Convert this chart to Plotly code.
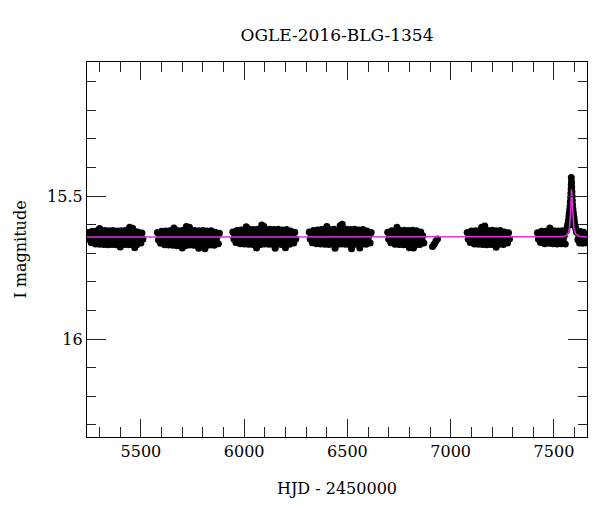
import plotly.graph_objects as go

s1_hjd = [5245, 5250, 5255, 5260, 5265, 5270, 5275, 5280, 5285, 5290,
          5295, 5300, 5305, 5310, 5315, 5320, 5325, 5330, 5335, 5340,
          5345, 5350, 5355, 5360, 5365, 5370, 5375, 5380, 5385, 5390,
          5395, 5400, 5405, 5410, 5415, 5420, 5425, 5430, 5435, 5440,
          5445, 5450, 5455, 5460, 5465, 5470, 5475, 5480, 5485, 5490,
          5495, 5500, 5505, 5510]
s1_mag = [15.627, 15.651, 15.639, 15.663, 15.623, 15.653, 15.638, 15.667,
          15.622, 15.652, 15.637, 15.668, 15.621, 15.654, 15.638, 15.669,
          15.620, 15.652, 15.637, 15.670, 15.621, 15.654, 15.636, 15.669,
          15.620, 15.653, 15.638, 15.670, 15.622, 15.652, 15.637, 15.668,
          15.621, 15.654, 15.638, 15.669, 15.620, 15.652, 15.637, 15.670,
          15.621, 15.654, 15.636, 15.669, 15.620, 15.653, 15.638, 15.670,
          15.625, 15.652, 15.638, 15.664, 15.629, 15.650]

s2_hjd = [5580, 5585, 5590, 5595, 5600, 5605, 5610, 5615, 5620, 5625,
          5630, 5635, 5640, 5645, 5650, 5655, 5660, 5665, 5670, 5675,
          5680, 5685, 5690, 5695, 5700, 5705, 5710, 5715, 5720, 5725,
          5730, 5735, 5740, 5745, 5750, 5755, 5760, 5765, 5770, 5775,
          5780, 5785, 5790, 5795, 5800, 5805, 5810, 5815, 5820, 5825,
          5830, 5835, 5840, 5845, 5850, 5855, 5860, 5865, 5870, 5875,
          5880]
s2_mag = [15.627, 15.653, 15.640, 15.665, 15.623, 15.655, 15.639, 15.670,
          15.622, 15.654, 15.638, 15.671, 15.621, 15.656, 15.639, 15.672,
          15.620, 15.654, 15.638, 15.673, 15.621, 15.656, 15.637, 15.672,
          15.620, 15.655, 15.639, 15.673, 15.622, 15.654, 15.638, 15.671,
          15.621, 15.656, 15.639, 15.672, 15.620, 15.654, 15.638, 15.673,
          15.621, 15.656, 15.637, 15.672, 15.620, 15.655, 15.639, 15.673,
          15.622, 15.654, 15.638, 15.671, 15.621, 15.656, 15.639, 15.672,
          15.626, 15.653, 15.640, 15.666, 15.630]

s3_hjd = [5945, 5950, 5955, 5960, 5965, 5970, 5975, 5980, 5985, 5990,
          5995, 6000, 6005, 6010, 6015, 6020, 6025, 6030, 6035, 6040,
          6045, 6050, 6055, 6060, 6065, 6070, 6075, 6080, 6085, 6090,
          6095, 6100, 6105, 6110, 6115, 6120, 6125, 6130, 6135, 6140,
          6145, 6150, 6155, 6160, 6165, 6170, 6175, 6180, 6185, 6190,
          6195, 6200, 6205, 6210, 6215, 6220, 6225, 6230, 6235, 6240,
          6245, 6250]
s3_mag = [15.625, 15.650, 15.637, 15.662, 15.620, 15.651, 15.635, 15.666,
          15.618, 15.650, 15.634, 15.667, 15.617, 15.652, 15.635, 15.668,
          15.616, 15.650, 15.634, 15.669, 15.617, 15.652, 15.633, 15.668,
          15.616, 15.651, 15.635, 15.669, 15.618, 15.650, 15.634, 15.667,
          15.617, 15.652, 15.635, 15.668, 15.616, 15.650, 15.634, 15.669,
          15.617, 15.652, 15.633, 15.668, 15.616, 15.651, 15.635, 15.669,
          15.618, 15.650, 15.634, 15.667, 15.617, 15.652, 15.635, 15.668,
          15.622, 15.650, 15.636, 15.664, 15.626, 15.650]

s4_hjd = [6315, 6320, 6325, 6330, 6335, 6340, 6345, 6350, 6355, 6360,
          6365, 6370, 6375, 6380, 6385, 6390, 6395, 6400, 6405, 6410,
          6415, 6420, 6425, 6430, 6435, 6440, 6445, 6450, 6455, 6460,
          6465, 6470, 6475, 6480, 6485, 6490, 6495, 6500, 6505, 6510,
          6515, 6520, 6525, 6530, 6535, 6540, 6545, 6550, 6555, 6560,
          6565, 6570, 6575, 6580, 6585, 6590, 6595, 6600, 6605, 6610,
          6615]
s4_mag = [15.625, 15.650, 15.637, 15.663, 15.620, 15.651, 15.635, 15.666,
          15.618, 15.650, 15.634, 15.667, 15.617, 15.652, 15.635, 15.668,
          15.616, 15.650, 15.634, 15.669, 15.617, 15.652, 15.633, 15.668,
          15.616, 15.651, 15.635, 15.669, 15.618, 15.650, 15.634, 15.667,
          15.617, 15.652, 15.635, 15.668, 15.616, 15.650, 15.634, 15.669,
          15.617, 15.652, 15.633, 15.668, 15.616, 15.651, 15.635, 15.669,
          15.618, 15.650, 15.634, 15.667, 15.617, 15.652, 15.635, 15.668,
          15.622, 15.650, 15.636, 15.664, 15.627]

s5_hjd = [6695, 6700, 6705, 6710, 6715, 6720, 6725, 6730, 6735, 6740,
          6745, 6750, 6755, 6760, 6765, 6770, 6775, 6780, 6785, 6790,
          6795, 6800, 6805, 6810, 6815, 6820, 6825, 6830, 6835, 6840,
          6845, 6850, 6855, 6860, 6865, 6870,
          6912, 6920, 6928, 6936]
s5_mag = [15.626, 15.651, 15.638, 15.663, 15.621, 15.653, 15.638, 15.668,
          15.621, 15.652, 15.637, 15.669, 15.620, 15.654, 15.638, 15.670,
          15.619, 15.652, 15.637, 15.671, 15.620, 15.654, 15.636, 15.670,
          15.619, 15.653, 15.638, 15.671, 15.621, 15.652, 15.637, 15.669,
          15.625, 15.652, 15.638, 15.664,
          15.676, 15.668, 15.658, 15.650]

s6_hjd = [7080, 7085, 7090, 7095, 7100, 7105, 7110, 7115, 7120, 7125,
          7130, 7135, 7140, 7145, 7150, 7155, 7160, 7165, 7170, 7175,
          7180, 7185, 7190, 7195, 7200, 7205, 7210, 7215, 7220, 7225,
          7230, 7235, 7240, 7245, 7250, 7255, 7260, 7265, 7270, 7275,
          7280, 7285]
s6_mag = [15.627, 15.651, 15.639, 15.662, 15.622, 15.653, 15.638, 15.667,
          15.621, 15.652, 15.637, 15.668, 15.620, 15.654, 15.638, 15.669,
          15.619, 15.652, 15.637, 15.670, 15.620, 15.654, 15.636, 15.669,
          15.619, 15.653, 15.638, 15.670, 15.621, 15.652, 15.637, 15.668,
          15.620, 15.654, 15.638, 15.669, 15.625, 15.652, 15.638, 15.664,
          15.628, 15.650]

s7_hjd = [7420, 7425, 7430, 7435, 7440, 7445, 7450, 7455, 7460, 7465,
          7470, 7475, 7480, 7485, 7490, 7495, 7500, 7505, 7510, 7515,
          7520, 7525, 7530, 7535, 7540, 7545, 7550, 7555, 7560,
          7562, 7565, 7568, 7570, 7572, 7574, 7576, 7578, 7579, 7581,
          7582, 7583, 7584, 7584, 7585, 7586, 7587, 7588, 7589, 7590,
          7592, 7594, 7596, 7598, 7600, 7603, 7606, 7609,
          7580, 7590, 7585, 7577, 7595, 7583, 7587,
          7612, 7616, 7620, 7624, 7628, 7632, 7636, 7640, 7644, 7648,
          7652, 7655]
s7_mag = [15.628, 15.651, 15.639, 15.662, 15.623, 15.652, 15.638, 15.666,
          15.623, 15.651, 15.637, 15.665, 15.622, 15.653, 15.638, 15.666,
          15.621, 15.651, 15.637, 15.667, 15.622, 15.653, 15.636, 15.666,
          15.621, 15.652, 15.638, 15.667, 15.622,
          15.615, 15.605, 15.595, 15.585, 15.572, 15.560, 15.548, 15.535, 15.520, 15.505,
          15.490, 15.475, 15.460, 15.435, 15.450, 15.468, 15.485, 15.500, 15.515, 15.530,
          15.545, 15.558, 15.570, 15.582, 15.594, 15.605, 15.615, 15.625,
          15.560, 15.575, 15.590, 15.600, 15.600, 15.520, 15.540,
          15.625, 15.652, 15.638, 15.664, 15.624, 15.653, 15.637, 15.665, 15.626, 15.651,
          15.638, 15.663]

# scattered points standing out of the bands
out_hjd = [5300, 5445, 5460, 5400, 5470,
           5720, 5735, 5660, 5780, 5810, 5700,
           6085, 6095, 6010, 6150, 6060, 6200,
           6475, 6465, 6400, 6440, 6520, 6560,
           6740, 6800, 6820,
           7165, 7150, 7220,
           7480]
out_mag = [15.613, 15.609, 15.612, 15.678, 15.680,
           15.606, 15.609, 15.611, 15.682, 15.684, 15.681,
           15.601, 15.605, 15.607, 15.682, 15.681, 15.680,
           15.598, 15.603, 15.606, 15.682, 15.684, 15.681,
           15.609, 15.680, 15.681,
           15.604, 15.609, 15.679,
           15.611]

# ---- model curve ----
model_hjd = [5239, 7540, 7560, 7570, 7575, 7578, 7581, 7583, 7584, 7585,
             7587, 7590, 7593, 7597, 7605, 7620, 7660]
model_mag = [15.643, 15.642, 15.638, 15.628, 15.612, 15.592, 15.552, 15.510, 15.482, 15.476,
             15.492, 15.540, 15.582, 15.612, 15.632, 15.640, 15.643]

title_text = "OGLE-2016-BLG-1354"
x_title = "HJD - 2450000"
y_title = "I magnitude"

obs_hjd = s1_hjd + s2_hjd + s3_hjd + s4_hjd + s5_hjd + s6_hjd + s7_hjd + out_hjd
obs_mag = s1_mag + s2_mag + s3_mag + s4_mag + s5_mag + s6_mag + s7_mag + out_mag

FONT = "DejaVu Serif"

fig = go.Figure()
fig.add_trace(go.Scatter(x=obs_hjd, y=obs_mag, mode="markers",
                         marker=dict(color="black", size=7, line=dict(width=0)),
                         showlegend=False, hoverinfo="skip"))
fig.add_trace(go.Scatter(x=model_hjd, y=model_mag, mode="lines",
                         line=dict(color="#e030e0", width=1.5),
                         showlegend=False, hoverinfo="skip"))

axis_common = dict(showgrid=False, zeroline=False, showline=True, linecolor="black",
                   linewidth=1.2, mirror="allticks", ticks="inside", tickcolor="#222",
                   tickwidth=1, tickfont=dict(family=FONT, size=16, color="black"))

fig.update_xaxes(range=[5239, 7660], tick0=0, dtick=500, ticklen=18,
                 minor=dict(dtick=100, tick0=0, ticks="inside", ticklen=10,
                            tickcolor="#222", tickwidth=1, showgrid=False),
                 title=dict(text=x_title, font=dict(family=FONT, size=16, color="black"),
                            standoff=22),
                 **axis_common)
fig.update_yaxes(range=[16.342, 15.031], tick0=0, dtick=0.5, ticklen=19,
                 minor=dict(dtick=0.1, tick0=0, ticks="inside", ticklen=9,
                            tickcolor="#222", tickwidth=1, showgrid=False),
                 title=dict(text=y_title, font=dict(family=FONT, size=16, color="black"),
                            standoff=16),
                 **axis_common)

# page body has an 8px margin, so the figure is offset by (8, 8) on screen
fig.update_layout(
    width=600, height=512,
    margin=dict(l=79, r=21, t=54, b=83, autoexpand=False),
    paper_bgcolor="white", plot_bgcolor="white",
    title=dict(text=title_text, x=329 / 600, xanchor="center", y=1 - 27 / 512, yanchor="middle",
               font=dict(family=FONT, size=17, color="black")),
)

fig.write_html("out.html")
